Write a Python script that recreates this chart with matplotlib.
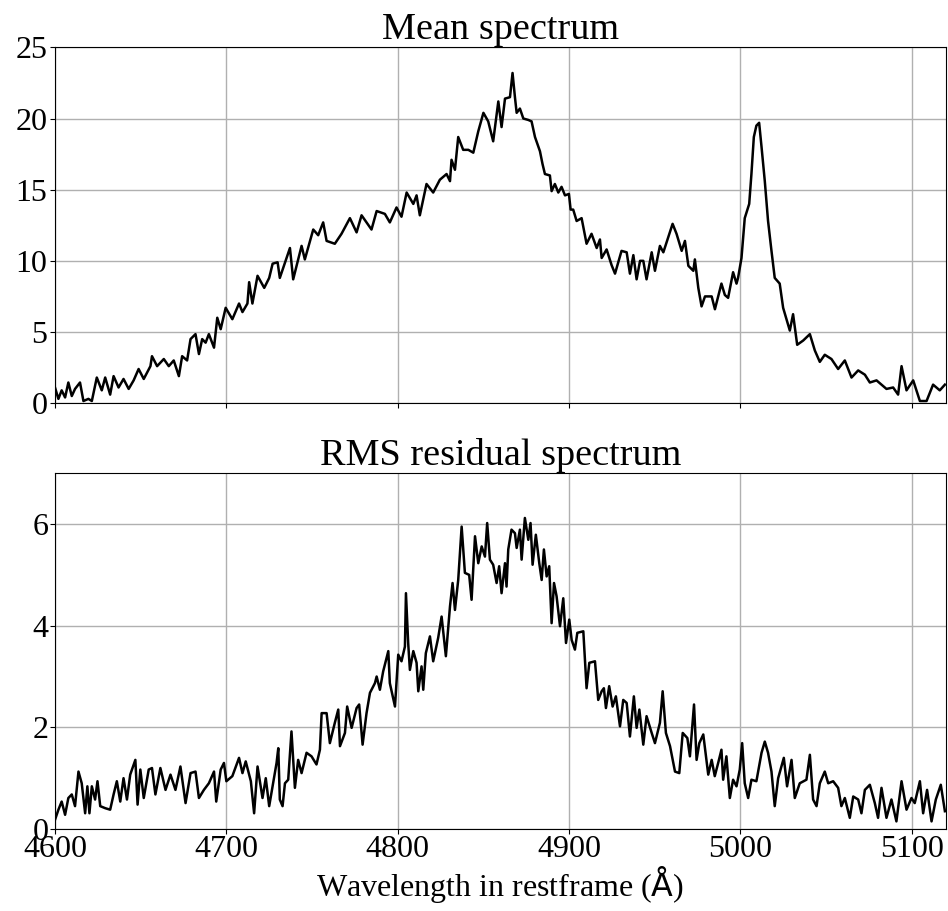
# Mean and RMS residual spectra
import numpy as np
import matplotlib
matplotlib.use("Agg")
import matplotlib.pyplot as plt

plt.rcParams['font.family'] = ['Liberation Serif', 'DejaVu Serif']
plt.rcParams['font.size'] = 23
plt.rcParams['mathtext.fontset'] = 'dejavusans'

# -----------------------------------------------------------
# DATA
# -----------------------------------------------------------

# mean spectrum
wave_mean = [
    4600.0, 4602.0, 4603.9, 4605.9, 4607.8, 4609.8, 4611.7, 4614.6, 4616.6, 4619.5,
    4621.5, 4624.4, 4627.3, 4629.3, 4632.2, 4634.2, 4637.1, 4640.0, 4643.0, 4645.9,
    4648.8, 4651.8, 4655.7, 4656.6, 4659.6, 4663.5, 4666.4, 4669.3, 4672.3, 4674.2,
    4677.1, 4679.1, 4682.0, 4684.0, 4685.9, 4687.9, 4689.8, 4692.8, 4694.7, 4696.7,
    4699.6, 4703.5, 4707.4, 4709.4, 4712.3, 4713.3, 4715.2, 4718.2, 4722.1, 4725.0,
    4727.0, 4729.9, 4731.2, 4737.1, 4739.0, 4743.9, 4745.8, 4750.7, 4753.6, 4756.5,
    4758.5, 4763.3, 4767.2, 4772.1, 4776.0, 4778.9, 4784.7, 4787.7, 4792.5, 4795.4,
    4799.3, 4802.2, 4805.2, 4809.1, 4811.0, 4812.9, 4816.8, 4820.7, 4824.6, 4828.5,
    4830.5, 4831.4, 4833.4, 4835.3, 4838.2, 4841.2, 4844.1, 4847.0, 4850.0, 4852.8,
    4855.7, 4858.7, 4860.6, 4862.6, 4865.5, 4867.0, 4868.4, 4869.4, 4871.3, 4873.3,
    4876.2, 4878.1, 4880.1, 4883.0, 4884.5, 4885.9, 4888.8, 4889.8, 4891.7, 4893.7,
    4895.6, 4897.6, 4899.9, 4900.9, 4902.4, 4904.4, 4907.3, 4910.2, 4913.1, 4916.1,
    4918.0, 4919.0, 4921.9, 4924.8, 4926.8, 4930.6, 4933.6, 4935.5, 4937.5, 4939.4,
    4941.4, 4943.3, 4945.2, 4948.2, 4950.1, 4953.0, 4955.0, 4956.9, 4960.4, 4962.7,
    4965.7, 4967.6, 4969.6, 4972.5, 4973.4, 4975.4, 4977.3, 4979.3, 4983.2, 4985.1,
    4988.9, 4990.9, 4992.8, 4995.7, 4997.7, 4998.6, 5000.6, 5002.5, 5005.1, 5006.4,
    5007.8, 5009.3, 5010.9, 5012.3, 5014.2, 5016.1, 5018.1, 5020.0, 5022.9, 5024.9,
    5028.8, 5030.7, 5033.1, 5036.6, 5040.5, 5043.4, 5046.3, 5049.2, 5053.1, 5057.0,
    5060.9, 5064.8, 5068.7, 5072.6, 5075.5, 5079.4, 5085.2, 5089.1, 5092.0, 5094.0,
    5096.9, 5100.8, 5104.7, 5108.6, 5112.4, 5116.3, 5119.3,
]
flux_mean = [
    1.1, 0.3, 0.9, 0.4, 1.45, 0.5, 1.0, 1.45, 0.15, 0.3,
    0.15, 1.8, 0.9, 1.8, 0.6, 1.9, 1.1, 1.7, 1.0, 1.6,
    2.4, 1.7, 2.6, 3.3, 2.6, 3.1, 2.6, 3.0, 1.9, 3.3,
    3.0, 4.5, 4.85, 3.45, 4.5, 4.25, 4.85, 3.9, 6.0, 5.2,
    6.7, 5.9, 7.0, 6.4, 7.0, 8.5, 7.0, 8.95, 8.1, 8.8,
    9.8, 9.9, 8.8, 10.9, 8.7, 11.05, 10.1, 12.2, 11.8, 12.7,
    11.4, 11.2, 11.9, 13.0, 12.0, 13.2, 12.2, 13.5, 13.3, 12.7,
    13.75, 13.1, 14.8, 14.0, 14.6, 13.2, 15.4, 14.8, 15.7, 16.1,
    15.6, 17.1, 16.4, 18.7, 17.8, 17.8, 17.6, 19.1, 20.4, 19.8,
    18.4, 21.2, 19.4, 21.4, 21.5, 23.2, 21.5, 20.4, 20.7, 20.0,
    19.9, 19.8, 18.7, 17.7, 16.8, 16.1, 16.0, 14.9, 15.4, 14.8,
    15.2, 14.6, 14.7, 13.6, 13.6, 12.8, 13.0, 11.2, 11.9, 10.9,
    11.5, 10.2, 10.8, 9.7, 9.1, 10.7, 10.6, 9.1, 10.4, 8.7,
    10.0, 10.0, 8.7, 10.6, 9.3, 11.05, 10.6, 11.3, 12.6, 11.9,
    10.7, 11.4, 9.65, 9.3, 10.1, 8.1, 6.8, 7.5, 7.5, 6.6,
    8.4, 7.6, 7.4, 9.2, 8.4, 8.8, 10.2, 13.0, 14.0, 16.1,
    18.7, 19.5, 19.7, 18.0, 15.6, 12.8, 10.7, 8.8, 8.4, 6.7,
    5.1, 6.25, 4.1, 4.4, 4.85, 3.7, 2.9, 3.4, 3.1, 2.4,
    3.0, 1.8, 2.3, 2.0, 1.45, 1.6, 1.0, 1.1, 0.6, 2.6,
    0.9, 1.6, 0.15, 0.15, 1.3, 0.9, 1.3,
]

# rms residual spectrum
wave_rms = [
    4600.0, 4602.0, 4603.9, 4605.9, 4607.8, 4609.8, 4611.7, 4613.7, 4615.6, 4617.6,
    4618.9, 4620.1, 4621.5, 4623.4, 4624.8, 4626.4, 4629.3, 4632.2, 4634.2, 4636.1,
    4638.1, 4640.0, 4642.0, 4643.9, 4646.9, 4648.2, 4649.8, 4651.8, 4654.7, 4656.6,
    4658.6, 4661.5, 4664.5, 4667.4, 4670.3, 4673.2, 4676.2, 4679.1, 4682.0, 4684.0,
    4686.9, 4689.8, 4692.8, 4694.1, 4696.7, 4698.6, 4700.0, 4703.5, 4707.4, 4709.4,
    4711.3, 4714.3, 4716.2, 4718.2, 4721.1, 4723.0, 4725.0, 4727.3, 4729.3, 4730.3,
    4731.2, 4732.8, 4734.2, 4736.1, 4738.0, 4740.0, 4741.9, 4743.9, 4746.8, 4749.7,
    4752.6, 4754.6, 4755.6, 4758.5, 4760.4, 4763.3, 4765.3, 4766.3, 4769.2, 4770.5,
    4773.1, 4776.0, 4777.5, 4779.5, 4781.8, 4783.8, 4786.7, 4787.7, 4789.6, 4791.5,
    4794.5, 4795.4, 4798.4, 4800.3, 4802.2, 4804.2, 4804.8, 4806.1, 4807.1, 4809.1,
    4811.0, 4812.0, 4813.9, 4814.9, 4816.4, 4818.8, 4820.7, 4823.6, 4825.6, 4828.1,
    4830.5, 4832.0, 4833.4, 4835.3, 4836.3, 4837.3, 4839.2, 4841.7, 4843.1, 4845.1,
    4847.0, 4849.0, 4850.9, 4852.2, 4853.8, 4855.7, 4857.7, 4859.2, 4860.6, 4862.6,
    4863.5, 4864.5, 4866.4, 4868.4, 4869.4, 4871.3, 4872.3, 4874.2, 4876.2, 4877.5,
    4878.7, 4880.6, 4882.6, 4884.0, 4885.3, 4886.9, 4888.4, 4889.8, 4891.2, 4892.7,
    4894.7, 4896.6, 4898.2, 4900.1, 4901.5, 4903.4, 4904.8, 4908.3, 4910.2, 4911.8,
    4915.1, 4917.0, 4919.0, 4920.3, 4921.5, 4923.4, 4925.4, 4927.3, 4929.7, 4931.6,
    4933.6, 4935.5, 4937.8, 4939.4, 4941.0, 4943.3, 4945.2, 4948.2, 4950.1, 4953.0,
    4954.6, 4956.5, 4958.9, 4961.8, 4964.3, 4966.3, 4969.0, 4970.5, 4972.9, 4974.4,
    4976.0, 4978.3, 4979.9, 4981.2, 4983.2, 4985.0, 4987.0, 4988.9, 4989.9, 4991.8,
    4993.8, 4995.7, 4997.7, 4999.6, 5001.0, 5002.5, 5004.5, 5006.4, 5009.3, 5012.3,
    5014.2, 5016.1, 5018.1, 5020.0, 5022.0, 5025.3, 5027.2, 5029.8, 5031.7, 5034.6,
    5038.5, 5040.5, 5042.4, 5044.4, 5046.3, 5049.2, 5051.2, 5054.1, 5057.0, 5058.9,
    5060.9, 5063.8, 5065.8, 5068.7, 5070.6, 5072.6, 5075.5, 5078.4, 5080.3, 5082.3,
    5085.2, 5088.1, 5091.0, 5094.0, 5096.9, 5099.8, 5101.7, 5104.7, 5106.6, 5108.9,
    5111.5, 5114.0, 5116.9, 5119.3,
]
flux_rms = [
    0.18, 0.38, 0.54, 0.28, 0.61, 0.68, 0.45, 1.13, 0.9, 0.31,
    0.84, 0.31, 0.84, 0.58, 0.94, 0.45, 0.41, 0.38, 0.68, 0.94,
    0.54, 1.0, 0.58, 1.07, 1.36, 0.48, 1.17, 0.61, 1.17, 1.2,
    0.68, 1.2, 0.77, 1.07, 0.77, 1.23, 0.51, 1.1, 1.13, 0.61,
    0.77, 0.9, 1.13, 0.54, 1.17, 1.3, 0.94, 1.04, 1.4, 1.1,
    1.33, 0.94, 0.31, 1.23, 0.61, 1.0, 0.45, 0.9, 1.3, 1.59,
    0.58, 0.45, 0.9, 0.97, 1.92, 0.81, 1.36, 1.1, 1.5, 1.43,
    1.27, 1.56, 2.28, 2.28, 1.69, 2.09, 2.35, 1.63, 1.89, 2.41,
    1.99, 2.38, 2.45, 1.66, 2.28, 2.68, 2.87, 3.0, 2.74, 3.1,
    3.5, 2.87, 2.41, 3.43, 3.3, 3.59, 4.64, 3.66, 3.13, 3.5,
    3.27, 2.71, 3.2, 2.74, 3.46, 3.79, 3.3, 3.76, 4.18, 3.4,
    4.38, 4.84, 4.31, 4.9, 5.43, 5.95, 5.04, 5.0, 4.51, 5.76,
    5.23, 5.56, 5.36, 6.02, 5.3, 5.2, 4.84, 5.17, 4.64, 5.23,
    4.77, 5.5, 5.89, 5.82, 5.53, 5.89, 5.3, 6.12, 5.69, 6.02,
    5.2, 5.79, 5.23, 4.9, 5.5, 4.97, 5.17, 4.05, 4.84, 4.58,
    3.99, 4.54, 3.66, 4.12, 3.72, 3.53, 3.86, 3.89, 2.77, 3.27,
    3.3, 2.54, 2.71, 2.77, 2.38, 2.81, 2.41, 2.61, 2.02, 2.54,
    2.48, 1.82, 2.61, 1.99, 2.35, 1.66, 2.22, 1.89, 1.69, 2.09,
    2.71, 1.89, 1.63, 1.13, 1.1, 1.89, 1.79, 1.43, 2.45, 1.36,
    1.69, 1.86, 1.43, 1.07, 1.36, 1.04, 1.3, 1.56, 0.97, 1.43,
    0.61, 0.97, 0.84, 1.17, 1.69, 0.9, 0.61, 0.97, 0.94, 1.5,
    1.72, 1.5, 1.13, 0.45, 1.0, 1.4, 0.84, 1.36, 0.61, 0.9,
    0.97, 1.46, 0.58, 0.45, 0.9, 1.13, 0.9, 0.94, 0.81, 0.45,
    0.61, 0.22, 0.64, 0.58, 0.31, 0.77, 0.87, 0.51, 0.22, 0.81,
    0.22, 0.58, 0.15, 0.94, 0.38, 0.61, 0.51, 0.94, 0.31, 0.77,
    0.15, 0.58, 0.87, 0.35,
]

# -----------------------------------------------------------
# FIGURE
# -----------------------------------------------------------

fig, (ax1, ax2) = plt.subplots(2, 1, sharex=True, figsize=(9.48, 9.11), dpi=100)
fig.subplots_adjust(left=0.058, right=0.998, top=0.948, bottom=0.09, hspace=0.197)

# mean spectrum
ax1.plot(wave_mean, flux_mean, color='black', linewidth=1.8)
ax1.set_title("Mean spectrum", fontsize=27.5, pad=4)
ax1.set_ylim(0, 25)
ax1.set_yticks([0, 5, 10, 15, 20, 25])
ax1.grid(True, color='#b0b0b0', linewidth=1.0)
ax1.set_axisbelow(True)
ax1.tick_params(axis='y', pad=2)

# rms spectrum
ax2.plot(wave_rms, flux_rms, color='black', linewidth=1.8)
ax2.set_title("RMS residual spectrum", fontsize=27.5, pad=4)
ax2.set_ylim(0, 7)
ax2.set_yticks([0, 2, 4, 6])
ax2.grid(True, color='#b0b0b0', linewidth=1.0)
ax2.set_axisbelow(True)
ax2.tick_params(axis='both', pad=1)

ax2.set_xlim(4600, 5120)
ax2.set_xticks([4600, 4700, 4800, 4900, 5000, 5100])
ax2.set_xlabel(r"Wavelength in restframe ($\mathrm{\AA}$)", fontsize=23, labelpad=0)

fig.savefig("out.png", dpi=100)
